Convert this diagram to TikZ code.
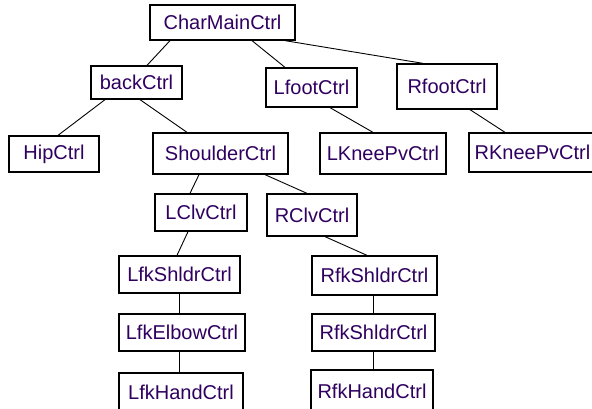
\documentclass[tikz,border=0pt]{standalone}
\usepackage{fontspec}
\setmainfont{Liberation Sans}
\definecolor{txt}{RGB}{48,0,96}
\begin{document}
\begin{tikzpicture}[x=1pt,y=-1pt,
  box/.style={draw=black, line width=1.3pt, fill=white, inner sep=0pt, anchor=center,
    font=\fontsize{20}{24}\selectfont, text=txt},
  link/.style={draw=black, line width=0.9pt}]
\fill[white] (0,0) rectangle (592,409);
\useasboundingbox (0,0) rectangle (592,409);
\clip (0,0) rectangle (592,409);
% nodes: centre, width, height
\node[box, minimum width=145pt, minimum height=35pt] (main) at (222.5,22.5) {CharMainCtrl};
\node[box, minimum width=91pt, minimum height=33pt] (back) at (136.5,82.5) {backCtrl};
\node[box, minimum width=91pt, minimum height=39pt] (lfoot) at (311.5,87.5) {LfootCtrl};
\node[box, minimum width=100pt, minimum height=45pt] (rfoot) at (447,86.5) {RfootCtrl};
\node[box, minimum width=90pt, minimum height=36pt] (hip) at (54,154) {HipCtrl};
\node[box, minimum width=135pt, minimum height=41pt] (shoulder) at (220.5,153.5) {ShoulderCtrl};
\node[box, minimum width=126pt, minimum height=41pt] (lknee) at (383,153.5) {LKneePvCtrl};
\node[box, minimum width=127pt, minimum height=39pt] (rknee) at (532.5,152.5) {RKneePvCtrl};
\node[box, minimum width=92pt, minimum height=37pt] (lclv) at (201,212.5) {LClvCtrl};
\node[box, minimum width=90pt, minimum height=42pt] (rclv) at (312,215) {RClvCtrl};
\node[box, minimum width=121pt, minimum height=37pt] (lfkshldr) at (179.5,274.5) {LfkShldrCtrl};
\node[box, minimum width=125pt, minimum height=39pt] (rfkshldr) at (374.5,275.5) {RfkShldrCtrl};
\node[box, minimum width=126pt, minimum height=37pt] (lfkelbow) at (182,332.5) {LfkElbowCtrl};
\node[box, minimum width=123pt, minimum height=37pt] (rfkshldrb) at (373.5,332.5) {RfkShldrCtrl};
\node[box, minimum width=124pt, minimum height=38pt] (lfkhand) at (181,392) {LfkHandCtrl};
\node[box, minimum width=122pt, minimum height=42pt] (rfkhand) at (372,391) {RfkHandCtrl};
% connectors
\draw[link] ([xshift=-52.5pt]main.south) -- ([xshift=10.5pt]back.north);
\draw[link] ([xshift=29.5pt]main.south) -- ([xshift=-26.5pt]lfoot.north);
\draw[link] ([xshift=62.5pt]main.south) -- ([xshift=-24pt]rfoot.north);
\draw[link] ([xshift=-31.5pt]back.south) -- ([xshift=4pt]hip.north);
\draw[link] ([xshift=3.5pt]back.south) -- ([xshift=-33.5pt]shoulder.north);
\draw[link] ([xshift=18.5pt]lfoot.south) -- ([xshift=-10pt]lknee.north);
\draw[link] ([xshift=23pt]rfoot.south) -- ([xshift=-27.5pt]rknee.north);
\draw[link] ([xshift=-21.5pt]shoulder.south) -- ([xshift=-11pt]lclv.north);
\draw[link] ([xshift=44.5pt]shoulder.south) -- ([xshift=-5pt]rclv.north);
\draw[link] ([xshift=-13pt]lclv.south) -- ([xshift=-2.5pt]lfkshldr.north);
\draw[link] ([xshift=13pt]rclv.south) -- ([xshift=-7.5pt]rfkshldr.north);
\draw[link] ([xshift=-0.5pt]lfkshldr.south) -- ([xshift=-3pt]lfkelbow.north);
\draw[link] ([xshift=-3pt]lfkelbow.south) -- ([xshift=-2pt]lfkhand.north);
\draw[link] ([xshift=-1.5pt]rfkshldr.south) -- ([xshift=-0.5pt]rfkshldrb.north);
\draw[link] ([xshift=-0.5pt]rfkshldrb.south) -- ([xshift=1pt]rfkhand.north);
\end{tikzpicture}
\end{document}
